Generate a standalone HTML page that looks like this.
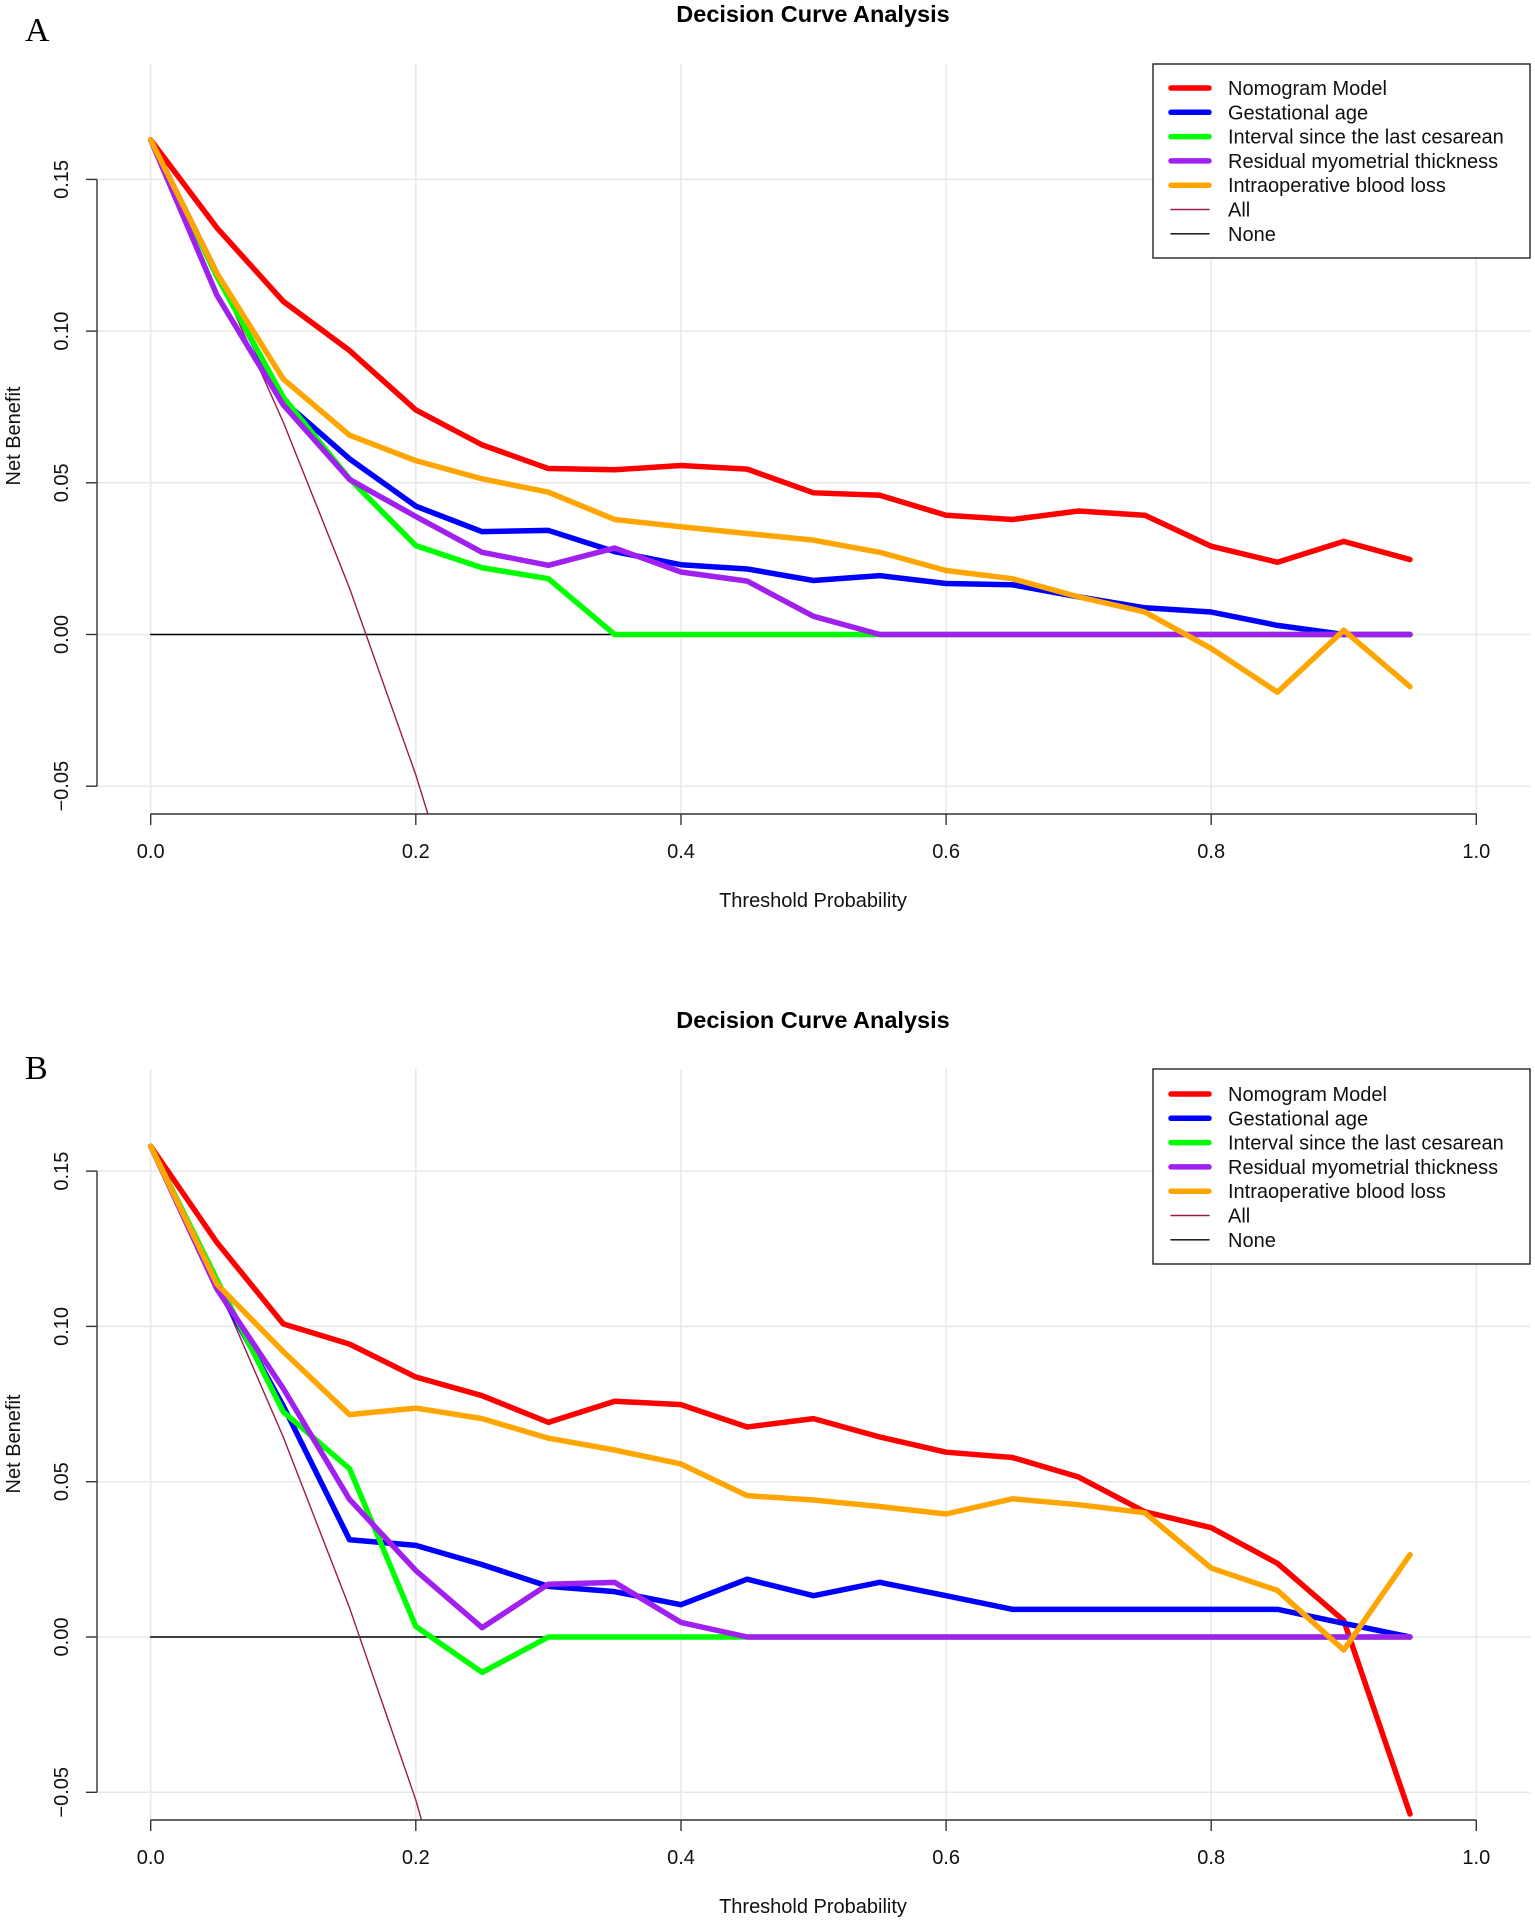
<!DOCTYPE html>
<html><head><meta charset="utf-8"><style>
html,body{margin:0;padding:0;background:#fff}
svg{display:block;font-family:"Liberation Sans",Arial,sans-serif}
.d{fill:none;vector-effect:non-scaling-stroke;stroke-linejoin:round;stroke-linecap:round}
.t{stroke-width:5.5}
</style></head><body>
<svg width="1535" height="1922" viewBox="0 0 1535 1922" xmlns="http://www.w3.org/2000/svg">
<rect width="1535" height="1922" fill="#fff"/>

<!-- ================= PANEL A ================= -->
<g>
<text x="813" y="22" font-size="23.5" font-weight="bold" text-anchor="middle">Decision Curve Analysis</text>
<text x="25" y="41" font-size="34" font-family="Liberation Serif,serif">A</text>
<g stroke="#e8e8e8" stroke-width="1.5">
<line x1="150.7" y1="64" x2="150.7" y2="814"/><line x1="415.8" y1="64" x2="415.8" y2="814"/>
<line x1="681" y1="64" x2="681" y2="814"/><line x1="946.1" y1="64" x2="946.1" y2="814"/>
<line x1="1211.2" y1="64" x2="1211.2" y2="814"/><line x1="1476.3" y1="64" x2="1476.3" y2="814"/>
<line x1="97" y1="179.4" x2="1530" y2="179.4"/><line x1="97" y1="331.1" x2="1530" y2="331.1"/>
<line x1="97" y1="482.8" x2="1530" y2="482.8"/><line x1="97" y1="634.5" x2="1530" y2="634.5"/>
<line x1="97" y1="786.2" x2="1530" y2="786.2"/>
</g>
<g transform="translate(150.7,634.5) scale(1325.6,-3034)">
<polyline class="d" stroke="#000" stroke-width="1.4" points="0,0 0.95,0"/>
<polyline class="d" stroke="#9B1B4B" stroke-width="1.4" points="0,0.163 0.05,0.119 0.1,0.070 0.15,0.0153 0.2,-0.0463 0.209,-0.059"/>
<polyline class="d t" stroke="#ff0000" points="0,0.163 0.05,0.134 0.1,0.1098 0.15,0.0936 0.2,0.074 0.25,0.0625 0.3,0.0547 0.35,0.0543 0.4,0.0557 0.45,0.0545 0.5,0.0467 0.55,0.0459 0.6,0.0393 0.65,0.0379 0.7,0.0407 0.75,0.0393 0.8,0.0291 0.85,0.0238 0.9,0.0307 0.95,0.0247"/>
<polyline class="d t" stroke="#0000ff" points="0,0.163 0.05,0.119 0.1,0.077 0.15,0.0579 0.2,0.0423 0.25,0.0339 0.3,0.0343 0.35,0.0273 0.4,0.023 0.45,0.0216 0.5,0.0178 0.55,0.0194 0.6,0.0168 0.65,0.0164 0.7,0.0124 0.75,0.0088 0.8,0.0074 0.85,0.003 0.9,0 0.95,0"/>
<polyline class="d t" stroke="#00ff00" points="0,0.163 0.05,0.118 0.1,0.0782 0.15,0.0513 0.2,0.0293 0.25,0.022 0.3,0.0184 0.35,0 0.95,0"/>
<polyline class="d t" stroke="#a020f0" points="0,0.163 0.05,0.1118 0.1,0.0757 0.15,0.0511 0.2,0.0389 0.25,0.0271 0.3,0.0228 0.35,0.0285 0.4,0.0206 0.45,0.0176 0.5,0.006 0.55,0 0.95,0"/>
<polyline class="d t" stroke="#ffa500" points="0,0.163 0.05,0.119 0.1,0.0842 0.15,0.0657 0.2,0.0573 0.25,0.0513 0.3,0.0469 0.35,0.0379 0.4,0.0355 0.45,0.0333 0.5,0.0311 0.55,0.0271 0.6,0.0211 0.65,0.0184 0.7,0.0124 0.75,0.0074 0.8,-0.0046 0.85,-0.019 0.9,0.0014 0.95,-0.0172"/>
</g>
<g stroke="#333" stroke-width="1.4" fill="none">
<line x1="97" y1="179.4" x2="97" y2="786.2"/>
<line x1="86" y1="179.4" x2="97" y2="179.4"/><line x1="86" y1="331.1" x2="97" y2="331.1"/>
<line x1="86" y1="482.8" x2="97" y2="482.8"/><line x1="86" y1="634.5" x2="97" y2="634.5"/>
<line x1="86" y1="786.2" x2="97" y2="786.2"/>
<line x1="150.7" y1="814" x2="1476.3" y2="814"/>
<line x1="150.7" y1="814" x2="150.7" y2="825"/><line x1="415.8" y1="814" x2="415.8" y2="825"/>
<line x1="681" y1="814" x2="681" y2="825"/><line x1="946.1" y1="814" x2="946.1" y2="825"/>
<line x1="1211.2" y1="814" x2="1211.2" y2="825"/><line x1="1476.3" y1="814" x2="1476.3" y2="825"/>
</g>
<g font-size="20" text-anchor="middle" fill="#111">
<text x="150.7" y="858">0.0</text><text x="415.8" y="858">0.2</text><text x="681" y="858">0.4</text>
<text x="946.1" y="858">0.6</text><text x="1211.2" y="858">0.8</text><text x="1476.3" y="858">1.0</text>
<text transform="translate(68,179.4) rotate(-90)">0.15</text>
<text transform="translate(68,331.1) rotate(-90)">0.10</text>
<text transform="translate(68,482.8) rotate(-90)">0.05</text>
<text transform="translate(68,634.5) rotate(-90)">0.00</text>
<text transform="translate(68,786.2) rotate(-90)">−0.05</text>
<text x="813" y="907">Threshold Probability</text>
<text transform="translate(20,436) rotate(-90)">Net Benefit</text>
</g>
<rect x="1153" y="64" width="377" height="194" fill="#fff" stroke="#222" stroke-width="1.4"/>
<g stroke-linecap="round">
<line x1="1171" y1="88" x2="1209" y2="88" stroke="#ff0000" stroke-width="5.5"/>
<line x1="1171" y1="112.3" x2="1209" y2="112.3" stroke="#0000ff" stroke-width="5.5"/>
<line x1="1171" y1="136.6" x2="1209" y2="136.6" stroke="#00ff00" stroke-width="5.5"/>
<line x1="1171" y1="160.9" x2="1209" y2="160.9" stroke="#a020f0" stroke-width="5.5"/>
<line x1="1171" y1="185.2" x2="1209" y2="185.2" stroke="#ffa500" stroke-width="5.5"/>
<line x1="1171" y1="209.5" x2="1209" y2="209.5" stroke="#9B1B4B" stroke-width="1.4"/>
<line x1="1171" y1="233.8" x2="1209" y2="233.8" stroke="#000" stroke-width="1.4"/>
</g>
<g font-size="20" fill="#111">
<text x="1228" y="95">Nomogram Model</text>
<text x="1228" y="119.3">Gestational age</text>
<text x="1228" y="143.6">Interval since the last cesarean</text>
<text x="1228" y="167.9">Residual myometrial thickness</text>
<text x="1228" y="192.2">Intraoperative blood loss</text>
<text x="1228" y="216.5">All</text>
<text x="1228" y="240.8">None</text>
</g>
</g>

<!-- ================= PANEL B ================= -->
<g>
<text x="813" y="1028" font-size="23.5" font-weight="bold" text-anchor="middle">Decision Curve Analysis</text>
<text x="25" y="1079" font-size="34" font-family="Liberation Serif,serif">B</text>
<g stroke="#e8e8e8" stroke-width="1.5">
<line x1="150.7" y1="1069" x2="150.7" y2="1820"/><line x1="415.8" y1="1069" x2="415.8" y2="1820"/>
<line x1="681" y1="1069" x2="681" y2="1820"/><line x1="946.1" y1="1069" x2="946.1" y2="1820"/>
<line x1="1211.2" y1="1069" x2="1211.2" y2="1820"/><line x1="1476.3" y1="1069" x2="1476.3" y2="1820"/>
<line x1="97" y1="1171.1" x2="1530" y2="1171.1"/><line x1="97" y1="1326.4" x2="1530" y2="1326.4"/>
<line x1="97" y1="1481.7" x2="1530" y2="1481.7"/><line x1="97" y1="1637" x2="1530" y2="1637"/>
<line x1="97" y1="1792.3" x2="1530" y2="1792.3"/>
</g>
<g transform="translate(150.7,1637) scale(1325.6,-3106)">
<polyline class="d" stroke="#000" stroke-width="1.4" points="0,0 0.95,0"/>
<polyline class="d" stroke="#9B1B4B" stroke-width="1.4" points="0,0.158 0.05,0.1137 0.1,0.0644 0.15,0.0094 0.2,-0.0525 0.204,-0.0585"/>
<polyline class="d t" stroke="#ff0000" points="0,0.158 0.05,0.127 0.1,0.1008 0.15,0.0943 0.2,0.0837 0.25,0.0777 0.3,0.0691 0.35,0.0759 0.4,0.0748 0.45,0.0676 0.5,0.0703 0.55,0.0644 0.6,0.0595 0.65,0.0578 0.7,0.0515 0.75,0.0403 0.8,0.0352 0.85,0.0237 0.9,0.0053 0.95,-0.057"/>
<polyline class="d t" stroke="#0000ff" points="0,0.158 0.05,0.113 0.1,0.0744 0.15,0.0313 0.2,0.0295 0.25,0.0233 0.3,0.0163 0.35,0.0146 0.4,0.0104 0.45,0.0186 0.5,0.0133 0.55,0.0176 0.6,0.0133 0.65,0.0089 0.7,0.0089 0.75,0.0089 0.8,0.0089 0.85,0.0089 0.9,0.0044 0.95,0"/>
<polyline class="d t" stroke="#00ff00" points="0,0.158 0.05,0.115 0.1,0.0725 0.15,0.0542 0.2,0.0034 0.25,-0.0114 0.3,0 0.95,0"/>
<polyline class="d t" stroke="#a020f0" points="0,0.158 0.05,0.112 0.1,0.080 0.15,0.0443 0.2,0.0214 0.25,0.003 0.3,0.017 0.35,0.0176 0.4,0.0047 0.45,0 0.95,0"/>
<polyline class="d t" stroke="#ffa500" points="0,0.158 0.05,0.1136 0.1,0.0919 0.15,0.0716 0.2,0.0737 0.25,0.0703 0.3,0.064 0.35,0.0602 0.4,0.0557 0.45,0.0455 0.5,0.0441 0.55,0.042 0.6,0.0396 0.65,0.0445 0.7,0.0426 0.75,0.040 0.8,0.0222 0.85,0.015 0.9,-0.0042 0.95,0.0265"/>
</g>
<g stroke="#333" stroke-width="1.4" fill="none">
<line x1="97" y1="1171.1" x2="97" y2="1792.3"/>
<line x1="86" y1="1171.1" x2="97" y2="1171.1"/><line x1="86" y1="1326.4" x2="97" y2="1326.4"/>
<line x1="86" y1="1481.7" x2="97" y2="1481.7"/><line x1="86" y1="1637" x2="97" y2="1637"/>
<line x1="86" y1="1792.3" x2="97" y2="1792.3"/>
<line x1="150.7" y1="1820" x2="1476.3" y2="1820"/>
<line x1="150.7" y1="1820" x2="150.7" y2="1831"/><line x1="415.8" y1="1820" x2="415.8" y2="1831"/>
<line x1="681" y1="1820" x2="681" y2="1831"/><line x1="946.1" y1="1820" x2="946.1" y2="1831"/>
<line x1="1211.2" y1="1820" x2="1211.2" y2="1831"/><line x1="1476.3" y1="1820" x2="1476.3" y2="1831"/>
</g>
<g font-size="20" text-anchor="middle" fill="#111">
<text x="150.7" y="1864">0.0</text><text x="415.8" y="1864">0.2</text><text x="681" y="1864">0.4</text>
<text x="946.1" y="1864">0.6</text><text x="1211.2" y="1864">0.8</text><text x="1476.3" y="1864">1.0</text>
<text transform="translate(68,1171.1) rotate(-90)">0.15</text>
<text transform="translate(68,1326.4) rotate(-90)">0.10</text>
<text transform="translate(68,1481.7) rotate(-90)">0.05</text>
<text transform="translate(68,1637) rotate(-90)">0.00</text>
<text transform="translate(68,1792.3) rotate(-90)">−0.05</text>
<text x="813" y="1913">Threshold Probability</text>
<text transform="translate(20,1444) rotate(-90)">Net Benefit</text>
</g>
<rect x="1153" y="1069" width="377" height="195" fill="#fff" stroke="#222" stroke-width="1.4"/>
<g stroke-linecap="round">
<line x1="1171" y1="1094" x2="1209" y2="1094" stroke="#ff0000" stroke-width="5.5"/>
<line x1="1171" y1="1118.3" x2="1209" y2="1118.3" stroke="#0000ff" stroke-width="5.5"/>
<line x1="1171" y1="1142.6" x2="1209" y2="1142.6" stroke="#00ff00" stroke-width="5.5"/>
<line x1="1171" y1="1166.9" x2="1209" y2="1166.9" stroke="#a020f0" stroke-width="5.5"/>
<line x1="1171" y1="1191.2" x2="1209" y2="1191.2" stroke="#ffa500" stroke-width="5.5"/>
<line x1="1171" y1="1215.5" x2="1209" y2="1215.5" stroke="#9B1B4B" stroke-width="1.4"/>
<line x1="1171" y1="1239.8" x2="1209" y2="1239.8" stroke="#000" stroke-width="1.4"/>
</g>
<g font-size="20" fill="#111">
<text x="1228" y="1101">Nomogram Model</text>
<text x="1228" y="1125.3">Gestational age</text>
<text x="1228" y="1149.6">Interval since the last cesarean</text>
<text x="1228" y="1173.9">Residual myometrial thickness</text>
<text x="1228" y="1198.2">Intraoperative blood loss</text>
<text x="1228" y="1222.5">All</text>
<text x="1228" y="1246.8">None</text>
</g>
</g>
</svg>
</body></html>
